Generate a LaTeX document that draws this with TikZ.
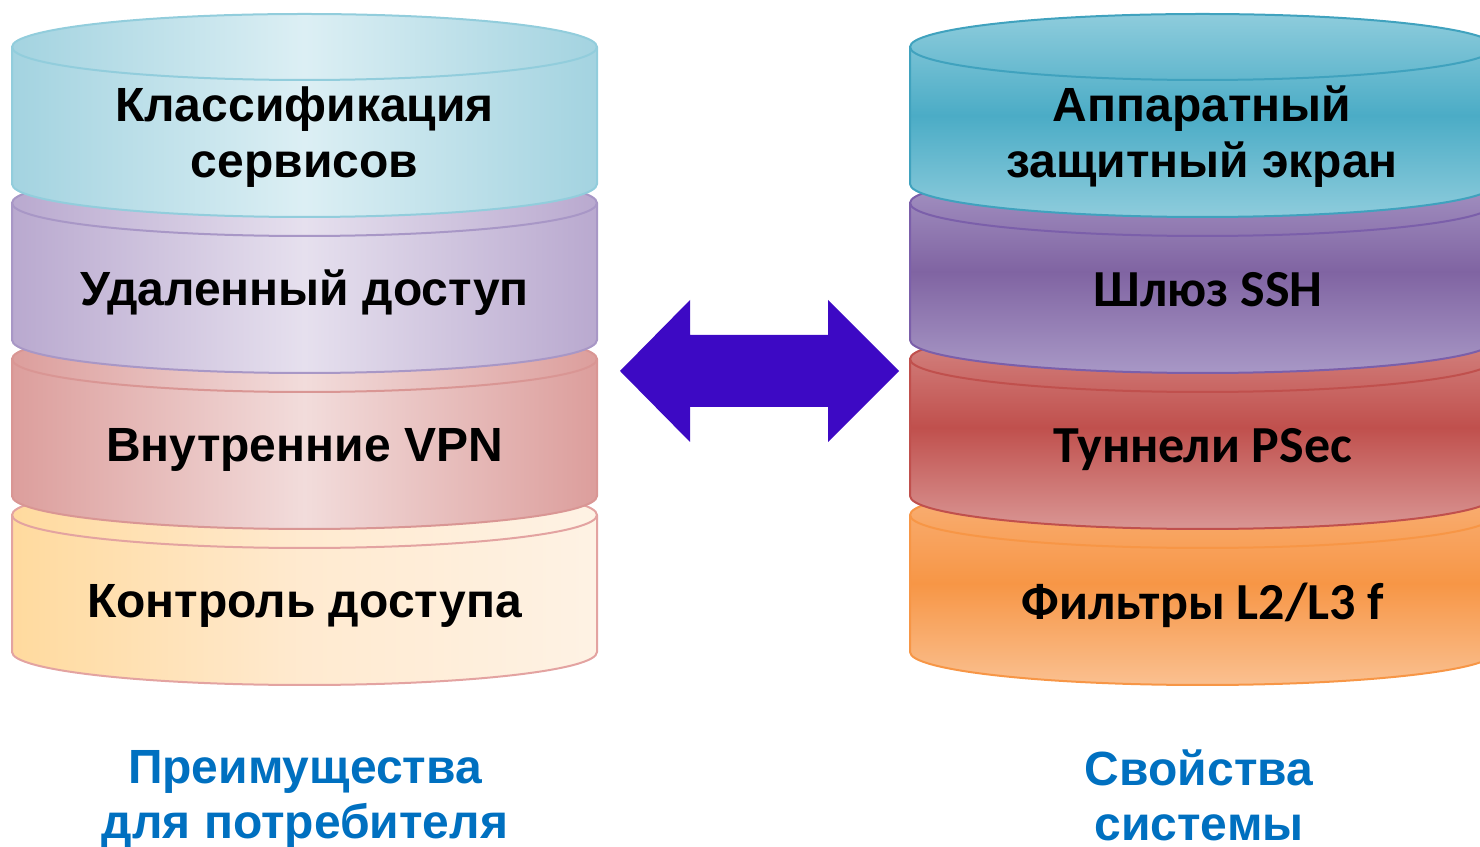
\documentclass[tikz,border=0pt]{standalone}
\usepackage{fontspec}
\setmainfont{Liberation Sans}
\newfontfamily\calibrifont{Carlito}
\usepackage{tikz}
\usetikzlibrary{positioning}

\definecolor{capblue}{HTML}{0070C0}
\definecolor{linkblue}{RGB}{61,9,196}
% left stack (soft tones)
\definecolor{cyanedge}{HTML}{A3D3E0}
\definecolor{cyanmid}{HTML}{DCEFF4}
\definecolor{cyanrim}{HTML}{92CDDC}
\definecolor{violedge}{HTML}{B9A9CF}
\definecolor{violmid}{HTML}{E6E0EE}
\definecolor{violrim}{HTML}{A897C6}
\definecolor{rededge}{HTML}{DC9E9C}
\definecolor{redmid}{HTML}{F2DCDB}
\definecolor{redrim}{HTML}{D99694}
\definecolor{sandedge}{HTML}{FFDA9E}
\definecolor{sandmid}{HTML}{FFEAD0}
\definecolor{sandright}{HTML}{FEF2E4}
\definecolor{sandrim}{HTML}{E3A3A1}
% right stack (strong tones)
\definecolor{tealtop}{HTML}{8ECCDC}
\definecolor{tealmid}{HTML}{4BACC6}
\definecolor{tealrim}{HTML}{40A2BE}
\definecolor{plumtop}{HTML}{A898C6}
\definecolor{plummid}{HTML}{8064A2}
\definecolor{plumrim}{HTML}{7B5FAA}
\definecolor{bricktop}{HTML}{D68A87}
\definecolor{brickmid}{HTML}{C0504D}
\definecolor{brickbot}{HTML}{D99694}
\definecolor{brickrim}{HTML}{C0504D}
\definecolor{ambertop}{HTML}{F9B27A}
\definecolor{ambermid}{HTML}{F79646}
\definecolor{amberbot}{HTML}{FAC090}
\definecolor{amberrim}{HTML}{F79646}

\begin{document}
\begin{tikzpicture}[
        x=1pt, y=1pt,
        rim/.style={line width=2pt},
        layertext/.style={font=\bfseries\fontsize{48}{56}\selectfont, align=center, text=black, inner sep=0pt},
        calibritext/.style={font=\calibrifont\bfseries\fontsize{52}{62}\selectfont, align=center, text=black, inner sep=0pt},
        caption/.style={font=\bfseries\fontsize{48}{55}\selectfont, align=center, text=capblue, inner sep=0pt}
    ]
    \useasboundingbox (0,0) rectangle (1480,846);

    % left stack, drawn from the bottom layer up
    \foreach \i/\edge/\mid/\redge/\rimc in {3/sandedge/sandmid/sandright/sandrim,
            2/rededge/redmid/rededge/redrim, 1/violedge/violmid/violedge/violrim,
            0/cyanedge/cyanmid/cyanedge/cyanrim} {
        \pgfmathsetmacro\top{799-156*\i}
        \path[rim, draw=\rimc, left color=\edge, right color=\redge, middle color=\mid]
            (12,\top) arc[start angle=180, end angle=0, x radius=292.5, y radius=33]
            -- (597,\top-137) arc[start angle=0, end angle=-180, x radius=292.5, y radius=33]
            -- cycle;
        \draw[rim, \rimc] (12,\top) arc[start angle=180, end angle=360, x radius=292.5, y radius=33];
    }

    % right stack
    \foreach \i/\tcol/\mcol/\bcol/\rimc in {3/ambertop/ambermid/amberbot/amberrim,
            2/bricktop/brickmid/brickbot/brickrim, 1/plumtop/plummid/plumtop/plumrim,
            0/tealtop/tealmid/tealtop/tealrim} {
        \pgfmathsetmacro\top{799-156*\i}
        \path[rim, draw=\rimc, top color=\tcol, bottom color=\bcol, middle color=\mcol]
            (910,\top) arc[start angle=180, end angle=0, x radius=292.5, y radius=33]
            -- (1495,\top-137) arc[start angle=0, end angle=-180, x radius=292.5, y radius=33]
            -- cycle;
        \draw[rim, \rimc] (910,\top) arc[start angle=180, end angle=360, x radius=292.5, y radius=33];
    }

    % layer labels
    \node[layertext] (classify) at (304.5,709) {Классификация\\сервисов};
    \node[layertext] (remote) at (304.5,553) {Удаленный доступ};
    \node[layertext] (innervpn) at (304.5,396) {Внутренние VPN};
    \node[layertext] (access) at (304.5,240) {Контроль доступа};

    \node[layertext] (firewall) at (1202,709) {Аппаратный\\защитный экран};
    \node[calibritext] (sshgate) at (1208,556) {Шлюз SSH};
    \node[calibritext] (tunnels) at (1203,396) {Туннели PSec};
    \node[calibritext] (filters) at (1203,241) {Фильтры L2/L3 f};

    % two-way arrow between the stacks
    \fill[linkblue] (620,475) -- (690,546) -- (690,511) -- (828,511) -- (828,546)
        -- (899,475) -- (828,404) -- (828,439) -- (690,439) -- (690,404) -- cycle;

    % captions
    \node[caption] (userside) at (305,47) {Преимущества\\для потребителя};
    \node[caption] (sysside) at (1199,51) {Свойства\\системы};
\end{tikzpicture}
\end{document}
